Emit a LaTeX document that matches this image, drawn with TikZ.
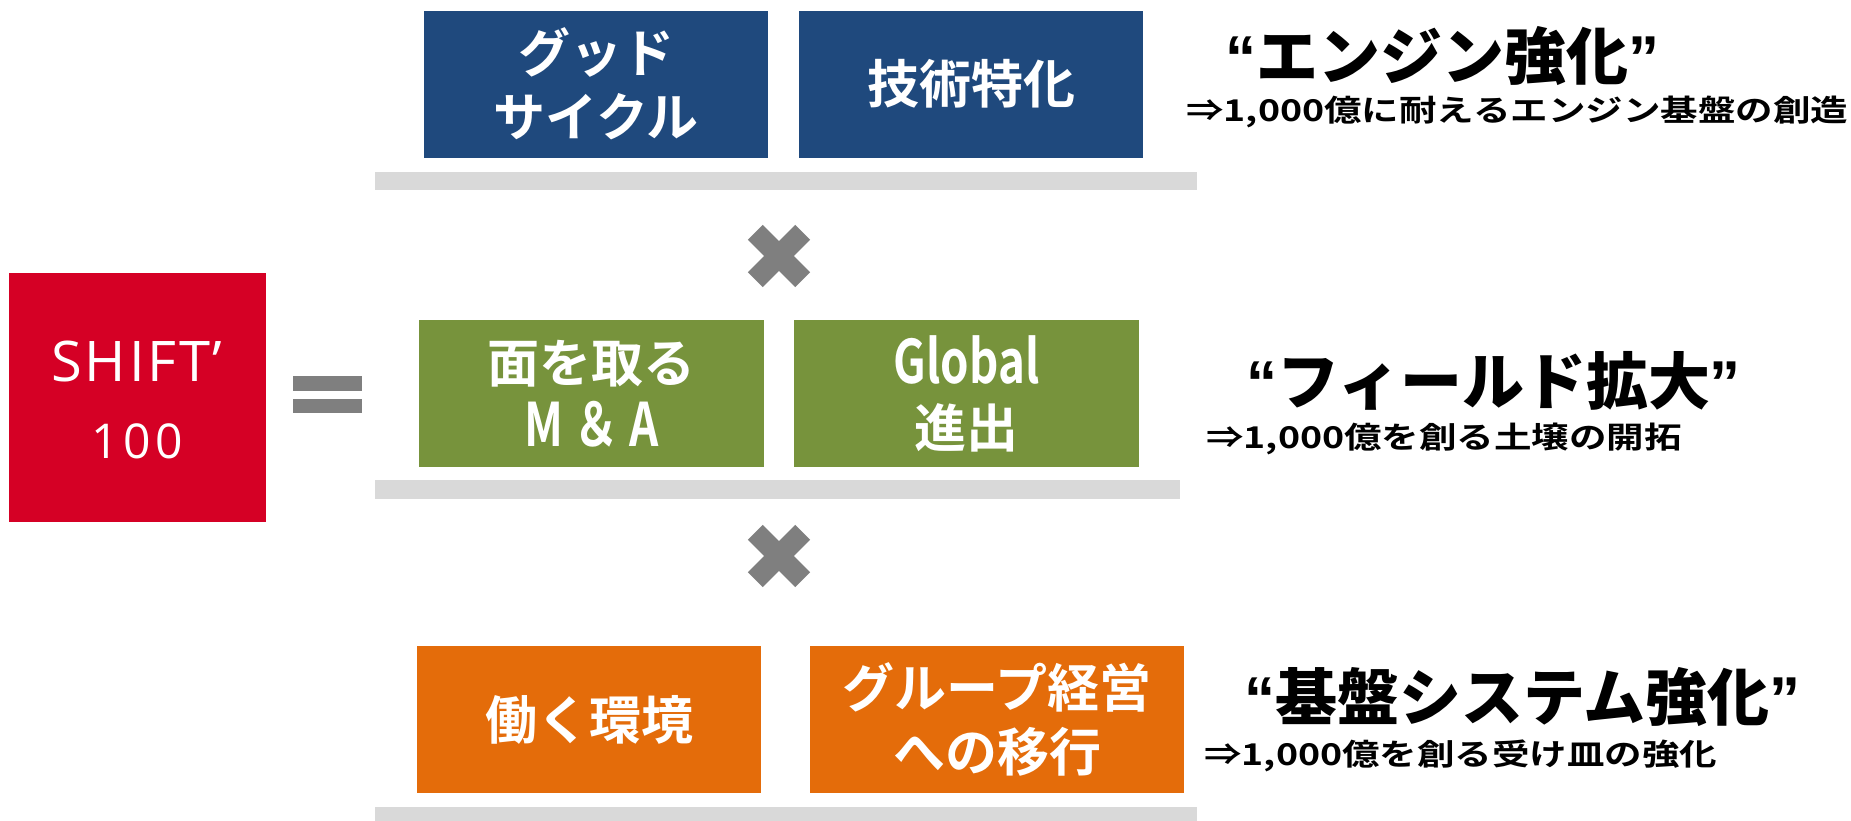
\documentclass[tikz,border=0pt]{standalone}
\usepackage{fontspec}
\setmainfont{Open Sans}
\newfontfamily\jpbold{Noto Sans CJK JP Bold}
\newfontfamily\jpblack{Noto Sans CJK JP Black}
\newfontfamily\jpwide{Noto Sans CJK JP Bold}[FakeStretch=1.25]
\newfontfamily\jpnarrow{Noto Sans CJK JP Bold}[FakeStretch=0.76]
\newfontfamily\quotefont{Liberation Sans}
\newfontfamily\shiftfont{Open Sans}[LetterSpace=5]
\definecolor{shiftred}{HTML}{D50025}
\definecolor{shiftblue}{HTML}{1F497D}
\definecolor{shiftgreen}{HTML}{77933C}
\definecolor{shiftorange}{HTML}{E46C0A}
\definecolor{bargray}{HTML}{D9D9D9}
\definecolor{markgray}{HTML}{7F7F7F}
\newcommand{\quo}[1]{{\quotefont\bfseries #1}}

\begin{document}
\begin{tikzpicture}[x=1pt, y=-1pt,
    cell/.style={text=white, align=center, inner sep=0pt, minimum height=147pt, font=\jpbold\fontsize{52}{64}\selectfont},
    headline/.style={anchor=west, inner sep=0pt, font=\jpblack\fontsize{62}{62}\selectfont},
    subline/.style={anchor=west, inner sep=0pt, font=\jpwide\fontsize{30}{30}\selectfont}]
    \useasboundingbox (0,0) rectangle (1851,820);
    \node[fill=shiftred, inner sep=0pt, minimum width=257pt, minimum height=249pt] (shift) at (137.5,397.5) {};
    \node[text=white, inner sep=0pt, font=\shiftfont\fontsize{56}{56}\selectfont] (shiftname) at (137,361.5) {SHIFT’};
    \node[text=white, inner sep=0pt, font=\shiftfont\fontsize{48}{48}\selectfont\addfontfeature{LetterSpace=9}] (shiftnum) at (137,441.5) {100};
    \fill[markgray] (293,376) rectangle (362,391);
    \fill[markgray] (293,399) rectangle (362,413);
    \fill[bargray] (375,172) rectangle (1197,190);
    \fill[bargray] (375,480) rectangle (1180,499);
    \fill[bargray] (375,807) rectangle (1197,826);
    \draw[markgray, line width=21pt] (755.3,232.3) -- (802.7,279.7);
    \draw[markgray, line width=21pt] (755.3,279.7) -- (802.7,232.3);
    \draw[markgray, line width=21pt] (755.3,532.3) -- (802.7,579.7);
    \draw[markgray, line width=21pt] (755.3,579.7) -- (802.7,532.3);
    \node[cell, fill=shiftblue, minimum width=344pt] (goodcycle) at (596,84) {グッド\\サイクル};
    \node[cell, fill=shiftblue, minimum width=344pt] (tech) at (971,84) {技術特化};
    \node[cell, fill=shiftgreen, minimum width=345pt] (ma) at (591.5,393.5) {面を取る\\{\jpnarrow\fontsize{60}{64}\selectfont M\,＆\,A}};
    \node[cell, fill=shiftgreen, minimum width=345pt] (global) at (966.5,393.5) {{\jpnarrow\fontsize{60}{64}\selectfont Global}\\進出};
    \node[cell, fill=shiftorange, minimum width=344pt] (work) at (589,719.5) {働く環境};
    \node[cell, fill=shiftorange, minimum width=374pt] (group) at (997,719.5) {グループ経営\\への移行};
    \node[headline] (engine) at (1225,56) {\quo{“}エンジン強化\quo{”}};
    \node[subline] (enginesub) at (1186,111.5) {⇒1,000億に耐えるエンジン基盤の創造};
    \node[headline] (field) at (1246,381) {\quo{“}フィールド拡大\quo{”}};
    \node[subline] (fieldsub) at (1206,439) {⇒1,000億を創る土壌の開拓};
    \node[headline] (system) at (1244,697) {\quo{“}基盤システム強化\quo{”}};
    \node[subline] (systemsub) at (1204,756) {⇒1,000億を創る受け皿の強化};
\end{tikzpicture}
\end{document}
